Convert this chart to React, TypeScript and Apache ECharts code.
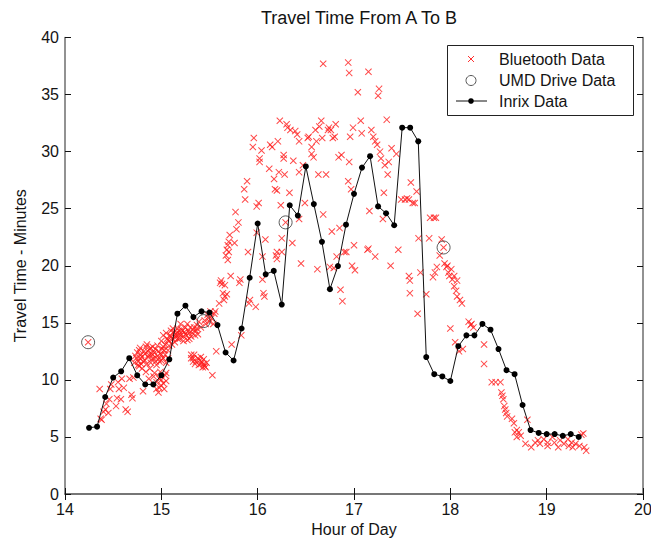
import React, { useEffect, useRef } from "react";
import * as echarts from "echarts";

const xTicks = [14, 15, 16, 17, 18, 19, 20];
const yTicks = [0, 5, 10, 15, 20, 25, 30, 35, 40];

const inrixHours = [
  14.25, 14.333, 14.417, 14.5, 14.583, 14.667, 14.75, 14.833, 14.917, 15,
  15.083, 15.167, 15.25, 15.333, 15.417, 15.5, 15.583, 15.667, 15.75, 15.833,
  15.917, 16, 16.083, 16.167, 16.25, 16.333, 16.417, 16.5, 16.583, 16.667,
  16.75, 16.833, 16.917, 17, 17.083, 17.167, 17.25, 17.333, 17.417, 17.5,
  17.583, 17.667, 17.75, 17.833, 17.917, 18, 18.083, 18.167, 18.25, 18.333,
  18.417, 18.5, 18.583, 18.667, 18.75, 18.833, 18.917, 19, 19.083, 19.167,
  19.25, 19.333,
];
const inrixMinutes = [
  5.8, 5.9, 8.5, 10.2, 10.75, 11.9, 10.4, 9.6, 9.6, 10.4,
  11.8, 15.8, 16.5, 15.5, 16.0, 15.9, 14.8, 12.4, 11.7, 14.5,
  18.95, 23.7, 19.25, 19.55, 16.6, 25.3, 24.4, 28.7, 25.4, 22.1,
  17.95, 19.97, 23.6, 26.3, 28.6, 29.6, 25.2, 24.6, 23.55, 32.1,
  32.1, 30.9, 12.0, 10.5, 10.3, 9.9, 12.95, 13.9, 13.9, 14.9,
  14.4, 12.7, 10.85, 10.5, 7.8, 5.6, 5.35, 5.25, 5.25, 5.1,
  5.25, 5.0,
];

const umdHours = [14.24, 15.44, 16.29, 17.93];
const umdMinutes = [13.3, 15.15, 23.8, 21.6];

const bluetoothPoints = [
  [14.24, 13.3], [14.36, 9.2], [14.37, 6.6], [14.38, 6.5], [14.4, 7.2], [14.42, 7.4],
  [14.43, 7.9], [14.45, 7.1], [14.46, 8.3], [14.47, 9.2], [14.48, 9.6], [14.53, 7.7],
  [14.54, 8.4], [14.55, 9.8], [14.56, 9.2], [14.58, 8.3], [14.59, 10.1], [14.61, 9.3],
  [14.63, 7.4], [14.65, 7.2], [14.67, 10.1], [14.69, 8.7], [14.7, 8.4], [14.71, 10.2],
  [14.74, 11.9], [14.76, 11.6], [14.76, 11.3], [14.78, 11.9], [14.79, 11.4], [14.79, 12.2],
  [14.81, 9.0], [14.82, 12.5], [14.83, 11.7], [14.84, 10.7], [14.85, 13.1], [14.86, 12.0],
  [14.86, 12.5], [14.87, 10.1], [14.88, 11.0], [14.89, 12.8], [14.9, 12.3], [14.91, 12.2],
  [14.92, 11.9], [14.94, 12.7], [14.95, 9.2], [14.95, 11.3], [14.96, 13.0], [14.97, 8.9],
  [14.97, 12.5], [14.98, 10.1], [14.98, 11.6], [14.99, 10.7], [15.0, 9.5], [15.01, 12.7],
  [15.02, 11.9], [15.04, 13.1], [15.04, 10.4], [15.05, 9.9], [14.77, 12.6], [14.8, 11.0],
  [14.93, 10.6], [15.0, 12.2], [15.03, 12.6], [14.89, 11.5], [15.06, 13.6], [15.03, 9.2],
  [14.72, 11.5], [14.73, 12.1], [14.75, 12.4], [14.77, 11.2], [14.78, 12.8], [14.8, 12.0],
  [14.81, 11.6], [14.83, 12.3], [14.84, 12.9], [14.85, 11.4], [14.87, 12.2], [14.88, 12.7],
  [14.9, 11.8], [14.91, 12.9], [14.93, 12.4], [14.94, 11.6], [14.96, 12.1], [14.97, 11.8],
  [14.99, 12.3], [15.0, 11.7], [15.02, 12.9], [15.04, 12.2], [15.05, 11.5], [15.07, 12.6],
  [15.08, 13.0], [14.92, 10.3], [14.95, 9.8], [14.98, 9.3], [15.0, 10.0], [15.02, 9.7],
  [15.05, 10.6],
  [15.07, 11.9], [15.08, 13.4], [15.09, 13.9], [15.1, 14.3], [15.11, 13.1], [15.12, 13.6],
  [15.13, 14.2], [15.14, 13.3], [15.15, 14.0], [15.17, 14.5], [15.17, 13.6], [15.18, 14.3],
  [15.2, 14.9], [15.2, 13.9], [15.22, 14.3], [15.23, 13.4], [15.24, 14.2], [15.25, 14.6],
  [15.26, 13.9], [15.27, 14.9], [15.28, 14.3], [15.29, 13.6], [15.3, 14.6], [15.31, 12.2],
  [15.33, 11.6], [15.33, 11.9], [15.35, 11.4], [15.36, 14.3], [15.37, 14.8], [15.38, 14.0],
  [15.39, 15.1], [15.4, 11.7], [15.41, 11.4], [15.42, 11.6], [15.43, 11.1], [15.44, 11.4],
  [15.45, 15.2], [15.46, 11.1], [15.48, 15.7], [15.49, 15.4], [15.5, 15.1], [15.51, 16.0],
  [15.53, 10.4], [15.54, 14.9], [15.55, 15.8], [15.56, 16.0], [15.57, 12.5], [15.15, 13.8],
  [15.19, 14.0], [15.32, 14.1], [15.34, 14.6], [15.41, 14.6], [15.46, 14.9], [15.52, 15.4],
  [15.0, 13.4], [15.02, 13.9], [15.05, 14.1], [15.07, 13.5], [15.1, 13.8], [15.12, 14.5],
  [15.14, 13.7], [15.16, 14.1], [15.19, 13.6], [15.21, 14.4], [15.23, 13.8], [15.25, 14.0],
  [15.27, 13.5], [15.29, 14.1], [15.31, 13.8], [15.33, 14.4], [15.35, 13.9], [15.37, 14.5],
  [15.31, 11.9], [15.34, 12.2], [15.36, 11.6], [15.38, 11.9], [15.39, 11.3], [15.41, 12.0],
  [15.44, 11.8], [15.45, 11.2], [15.47, 11.5],
  [15.6, 16.7], [15.61, 18.5], [15.62, 18.7], [15.63, 18.4], [15.64, 17.6], [15.65, 17.0],
  [15.66, 17.3], [15.67, 20.9], [15.68, 21.4], [15.69, 21.8], [15.69, 20.5], [15.7, 22.1],
  [15.71, 22.7], [15.72, 19.1], [15.73, 13.1], [15.76, 22.0], [15.77, 24.7], [15.78, 23.2],
  [15.8, 23.8], [15.81, 18.5], [15.82, 18.8], [15.83, 13.9], [15.86, 26.7], [15.87, 25.8],
  [15.89, 27.4], [15.9, 21.2], [15.91, 16.7], [15.92, 17.0], [15.95, 30.4], [15.96, 31.2],
  [15.98, 16.4], [15.99, 22.9], [15.99, 25.2], [15.66, 18.3], [15.68, 17.5], [15.7, 21.2],
  [16.01, 25.5], [16.02, 29.4], [16.02, 29.1], [16.04, 30.1], [16.05, 20.8], [16.05, 18.8],
  [16.06, 17.6], [16.07, 17.3], [16.08, 22.3], [16.12, 28.5], [16.15, 30.4], [16.17, 27.6],
  [16.18, 26.7], [16.19, 20.9], [16.2, 21.2], [16.2, 20.6], [16.21, 30.9], [16.22, 28.2],
  [16.23, 32.7], [16.24, 25.3], [16.25, 22.4], [16.25, 21.2], [16.27, 29.4], [16.27, 29.7],
  [16.29, 23.8], [16.3, 32.4], [16.31, 32.1], [16.33, 26.4], [16.34, 31.9], [16.36, 22.0],
  [16.37, 29.2], [16.39, 31.8], [16.41, 31.5], [16.43, 30.9], [16.43, 28.2], [16.43, 24.1],
  [16.45, 20.2], [16.47, 28.8], [16.49, 25.5], [16.13, 30.6], [16.2, 26.6], [16.28, 28.0],
  [16.52, 31.2], [16.53, 31.3], [16.56, 30.4], [16.56, 29.8], [16.58, 29.5], [16.6, 31.9],
  [16.61, 30.9], [16.62, 19.7], [16.63, 28.0], [16.64, 32.2], [16.66, 32.7], [16.67, 31.2],
  [16.68, 37.7], [16.68, 24.5], [16.71, 28.0], [16.73, 31.9], [16.74, 32.1], [16.75, 19.9],
  [16.76, 31.9], [16.77, 23.0], [16.78, 31.2], [16.8, 31.3], [16.81, 32.4], [16.82, 20.8],
  [16.84, 29.5], [16.85, 23.3], [16.86, 17.9], [16.87, 29.7], [16.88, 16.9], [16.9, 21.2],
  [16.92, 21.2], [16.94, 27.4], [16.94, 37.8], [16.95, 36.9], [16.95, 29.1], [16.96, 31.3],
  [16.97, 26.7], [16.98, 20.0], [16.99, 32.1], [17.0, 21.8], [17.01, 19.6], [16.79, 19.8],
  [17.04, 35.2], [17.07, 32.7], [17.08, 31.6], [17.14, 21.4], [17.15, 21.5], [17.15, 37.0],
  [17.16, 24.8], [17.18, 31.9], [17.2, 31.3], [17.22, 20.8], [17.22, 30.9], [17.24, 30.6],
  [17.25, 34.9], [17.26, 35.5], [17.27, 30.0], [17.28, 29.4], [17.3, 24.1], [17.31, 26.4],
  [17.32, 28.8], [17.34, 32.8], [17.35, 28.0], [17.36, 29.1], [17.38, 20.0], [17.39, 30.3],
  [17.44, 29.8], [17.46, 21.4],
  [17.49, 25.8], [17.53, 25.8], [17.55, 25.9], [17.57, 25.8], [17.57, 19.1], [17.58, 18.7],
  [17.58, 17.6], [17.59, 27.3], [17.61, 25.5], [17.63, 25.5], [17.65, 26.5], [17.66, 15.8],
  [17.67, 22.4], [17.69, 19.4], [17.75, 17.5], [17.78, 22.4], [17.79, 24.2], [17.82, 19.0],
  [17.83, 24.2], [17.84, 19.4], [17.85, 24.2], [17.86, 19.9], [17.89, 20.9], [17.91, 22.3],
  [17.93, 21.6], [17.94, 20.2], [17.96, 19.9], [17.97, 20.0], [17.98, 19.4], [17.99, 19.1],
  [18.0, 14.5],
  [18.01, 19.7], [18.02, 18.8], [18.04, 18.2], [18.04, 19.1], [18.05, 13.3], [18.06, 17.8],
  [18.07, 18.7], [18.07, 17.3], [18.09, 12.5], [18.1, 17.0], [18.12, 16.7], [18.13, 12.7],
  [18.19, 15.1], [18.21, 14.8], [18.22, 14.9], [18.24, 14.6], [18.35, 13.1], [18.35, 11.4],
  [18.43, 9.8], [18.47, 9.8], [18.52, 9.8], [18.53, 8.9], [18.54, 8.6], [18.55, 8.3],
  [18.56, 7.7], [18.57, 7.4], [18.58, 7.1], [18.59, 6.8],
  [18.64, 6.6], [18.66, 6.2], [18.67, 5.4], [18.69, 5.0], [18.69, 5.6], [18.71, 5.4],
  [18.73, 5.1], [18.78, 4.4], [18.8, 6.5], [18.84, 4.1], [18.88, 4.5], [18.91, 4.7],
  [18.93, 4.4], [18.97, 4.8], [19.01, 4.2], [19.01, 4.5], [19.06, 5.0], [19.08, 4.5],
  [19.12, 4.1], [19.14, 4.7], [19.18, 4.4], [19.22, 4.8], [19.23, 4.2], [19.26, 4.5],
  [19.27, 4.1], [19.3, 4.4], [19.34, 4.2], [19.36, 5.2], [19.38, 5.3], [19.39, 4.1],
  [19.41, 3.8],
];

const FONT = "'Liberation Sans', Arial, sans-serif";
const TEXT = "#141414";
const XMARK =
  "path://M0,1L1,0L5,4L9,0L10,1L6,5L10,9L9,10L5,6L1,10L0,9L4,5Z";

export default function App() {
  const ref = useRef<HTMLDivElement>(null);
  useEffect(() => {
    if (!ref.current) return;
    const chart = echarts.init(ref.current, undefined, { renderer: "svg" });
    const axisLine = { show: true, lineStyle: { color: "#6e6e6e", width: 1.5 } };
    const tick = { show: true, inside: true, length: 6, lineStyle: { color: "#111", width: 1 } };
    chart.setOption({
      animation: false,
      backgroundColor: "#fff",
      title: {
        text: "Travel Time From A To B",
        left: 354,
        textAlign: "center",
        top: 4,
        textStyle: { fontFamily: FONT, fontSize: 18, fontWeight: "normal", color: TEXT },
      },
      grid: { left: 65, right: 8, top: 37.5, bottom: 46, containLabel: false, outerBoundsMode: "none" },
      xAxis: [
        {
          type: "value",
          min: xTicks[0],
          max: xTicks[xTicks.length - 1],
          interval: 1,
          name: "Hour of Day",
          nameLocation: "middle",
          nameGap: 27,
          nameMoveOverlap: false,
          nameTextStyle: { fontFamily: FONT, fontSize: 16, color: TEXT },
          axisLine,
          axisTick: tick,
          splitLine: { show: false },
          axisLabel: { fontFamily: FONT, fontSize: 16, color: TEXT, margin: 7 },
        },
        {
          type: "value",
          position: "top",
          min: xTicks[0],
          max: xTicks[xTicks.length - 1],
          interval: 1,
          axisLine,
          axisTick: tick,
          splitLine: { show: false },
          axisLabel: { show: false },
        },
      ],
      yAxis: [
        {
          type: "value",
          min: yTicks[0],
          max: yTicks[yTicks.length - 1],
          interval: 5,
          name: "Travel Time - Minutes",
          nameLocation: "middle",
          nameGap: 37,
          nameTextStyle: { fontFamily: FONT, fontSize: 16, color: TEXT },
          axisLine,
          axisTick: tick,
          splitLine: { show: false },
          axisLabel: { fontFamily: FONT, fontSize: 16, color: TEXT, margin: 6 },
        },
        {
          type: "value",
          position: "right",
          min: yTicks[0],
          max: yTicks[yTicks.length - 1],
          interval: 5,
          axisLine,
          axisTick: tick,
          splitLine: { show: false },
          axisLabel: { show: false },
        },
      ],
      series: [
        {
          name: "Bluetooth Data",
          type: "scatter",
          symbol: XMARK,
          symbolSize: 7,
          itemStyle: { color: "#ff1a1a", opacity: 0.8 },
          data: bluetoothPoints,
          z: 2,
        },
        {
          name: "UMD Drive Data",
          type: "scatter",
          symbol: "circle",
          symbolSize: 13,
          itemStyle: { color: "rgba(0,0,0,0)", borderColor: "#333", borderWidth: 1 },
          data: umdHours.map((h, i) => [h, umdMinutes[i]]),
          z: 3,
        },
        {
          name: "Inrix Data",
          type: "line",
          symbol: "circle",
          symbolSize: 6,
          showSymbol: true,
          lineStyle: { color: "#111", width: 1 },
          itemStyle: { color: "#000" },
          data: inrixHours.map((h, i) => [h, inrixMinutes[i]]),
          z: 4,
        },
      ],
      graphic: [
        {
          type: "group",
          z: 100,
          children: [
            {
              type: "rect",
              shape: { x: 447.5, y: 45.5, width: 186, height: 70 },
              style: { fill: "#fff", stroke: "#222", lineWidth: 1 },
            },
            {
              type: "line",
              shape: { x1: 468, y1: 56, x2: 474, y2: 62 },
              style: { stroke: "#ff3030", lineWidth: 1 },
            },
            {
              type: "line",
              shape: { x1: 474, y1: 56, x2: 468, y2: 62 },
              style: { stroke: "#ff3030", lineWidth: 1 },
            },
            {
              type: "circle",
              shape: { cx: 471, cy: 80.5, r: 5 },
              style: { fill: "none", stroke: "#555", lineWidth: 1 },
            },
            {
              type: "line",
              shape: { x1: 456, y1: 101, x2: 487, y2: 101 },
              style: { stroke: "#111", lineWidth: 1 },
            },
            {
              type: "circle",
              shape: { cx: 471, cy: 101, r: 2.8 },
              style: { fill: "#000" },
            },
            {
              type: "text",
              x: 499,
              y: 59.5,
              style: { text: "Bluetooth Data", font: `16px ${FONT}`, fill: TEXT, verticalAlign: "middle" },
            },
            {
              type: "text",
              x: 499,
              y: 80.5,
              style: { text: "UMD Drive Data", font: `16px ${FONT}`, fill: TEXT, verticalAlign: "middle" },
            },
            {
              type: "text",
              x: 499,
              y: 101,
              style: { text: "Inrix Data", font: `16px ${FONT}`, fill: TEXT, verticalAlign: "middle" },
            },
          ],
        },
      ],
    });
    return () => chart.dispose();
  }, []);
  return <div ref={ref} style={{ width: 651, height: 540, position: "absolute", left: 0, top: 0 }} />;
}
